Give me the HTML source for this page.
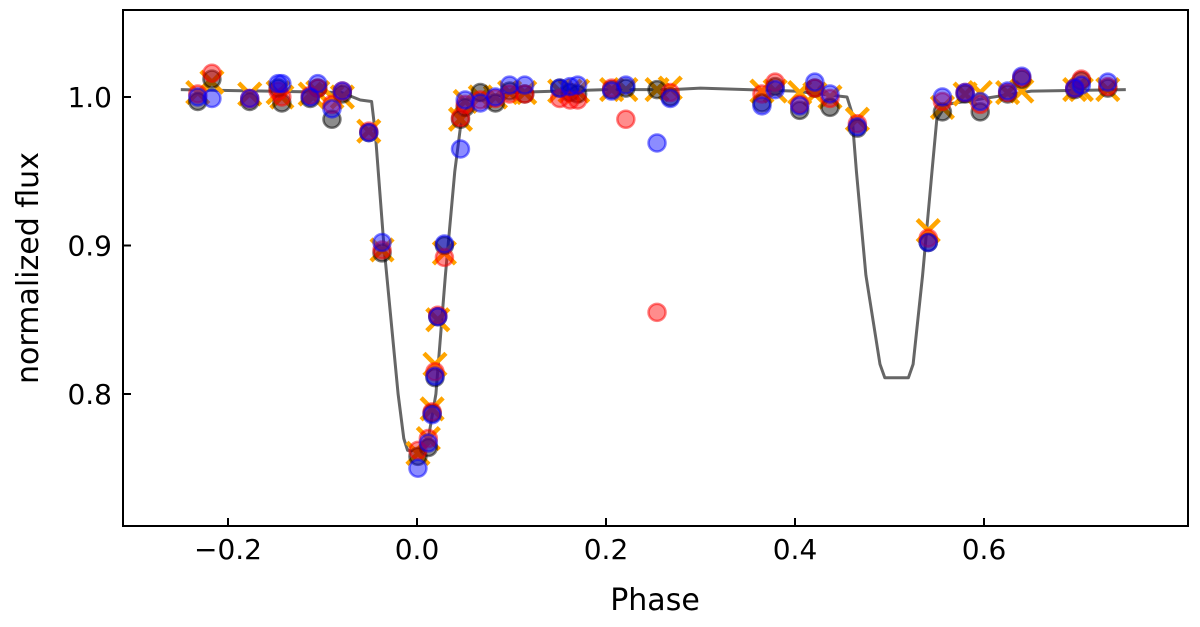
<!DOCTYPE html>
<html><head><meta charset="utf-8"><style>
body{margin:0;background:#fff;}
svg text{font-family:"DejaVu Sans","Liberation Sans",sans-serif;fill:#000;}
</style></head><body>
<svg id="chart" width="1200" height="622" xmlns="http://www.w3.org/2000/svg">
<g id="plot"></g>
<rect x="123" y="10" width="1065" height="516" fill="none" stroke="#000" stroke-width="2"/>
<g id="axes"></g>
<text x="655" y="610" font-size="30" text-anchor="middle">Phase</text>
<text transform="translate(38,268) rotate(-90)" font-size="30" text-anchor="middle">normalized flux</text>
</svg>
<script>
const xTicks=[-0.2,0.0,0.2,0.4,0.6];
const xTickLabels=["−0.2","0.0","0.2","0.4","0.6"];
const yTicks=[0.8,0.9,1.0];
const yTickLabels=["0.8","0.9","1.0"];
const modelPhase=[-0.25,-0.08,-0.06,-0.048,-0.044,-0.035,-0.02,-0.014,-0.01,0.006,0.012,0.02,0.03,0.04,0.046,0.05,0.06,0.1,0.2,0.27,0.3,0.4,0.455,0.46,0.465,0.475,0.49,0.495,0.52,0.525,0.535,0.545,0.55,0.56,0.65,0.75];
const modelFlux=[1.005,1.003,0.998,0.997,0.975,0.90,0.80,0.77,0.762,0.762,0.77,0.80,0.88,0.95,0.98,0.99,0.997,1.003,1.005,1.005,1.006,1.004,1.0,0.99,0.95,0.88,0.82,0.811,0.811,0.82,0.88,0.95,0.985,0.995,1.004,1.005];
const phases=[-0.232,-0.217,-0.177,-0.147,-0.143,-0.113,-0.105,-0.09,-0.079,-0.051,-0.037,0.001,0.012,0.016,0.019,0.022,0.029,0.046,0.051,0.067,0.083,0.098,0.114,0.151,0.162,0.17,0.206,0.221,0.254,0.268,0.365,0.379,0.405,0.421,0.437,0.466,0.541,0.556,0.58,0.596,0.625,0.64,0.696,0.703,0.731];
const fluxBlack=[0.997,1.012,0.997,1.006,0.996,0.999,1.006,0.985,1.002,0.976,0.895,0.758,0.764,0.787,0.811,0.852,0.900,0.985,0.993,1.003,0.996,1.004,1.002,1.006,1.003,1.002,1.005,1.006,1.005,1.000,0.996,1.007,0.991,1.006,0.993,0.979,0.902,0.990,1.002,0.990,1.002,1.012,1.005,1.011,1.006];
const fluxRed=[1.002,1.016,0.999,1.004,1.000,1.001,1.006,0.995,1.004,0.977,0.897,0.762,0.770,0.788,0.815,0.853,0.892,0.986,0.995,0.998,0.999,1.002,1.002,0.999,0.998,0.998,1.006,0.985,0.855,1.003,1.002,1.010,0.995,1.006,0.999,0.982,0.905,0.997,1.003,0.995,1.003,1.013,1.006,1.012,1.007];
const fluxBlue=[1.000,0.999,0.999,1.009,1.009,1.000,1.009,0.992,1.004,0.976,0.902,0.750,0.767,0.786,0.812,0.852,0.901,0.965,0.998,0.996,1.000,1.008,1.008,1.006,1.007,1.008,1.004,1.008,0.969,0.999,0.994,1.005,0.994,1.010,1.002,0.980,0.902,1.000,1.003,0.997,1.004,1.014,1.006,1.008,1.010];
const fluxModelPts=[1.003,1.010,1.002,1.003,1.000,1.002,1.003,1.000,1.000,0.977,0.897,0.760,0.770,0.790,0.820,0.850,0.895,0.985,0.997,1.000,1.000,1.003,1.003,1.004,1.004,1.004,1.005,1.005,1.005,1.006,1.004,1.004,1.003,1.002,1.000,0.985,0.910,0.993,1.002,1.003,1.003,1.004,1.005,1.005,1.005];

const X=p=>417+(p-0)*945;
const Y=f=>97+(1.0-f)*1485;
const NS="http://www.w3.org/2000/svg";
const plot=document.getElementById('plot'), axes=document.getElementById('axes');
function mk(tag,attrs,parent){const e=document.createElementNS(NS,tag);for(const k in attrs)e.setAttribute(k,attrs[k]);parent.appendChild(e);return e;}

let d=modelPhase.map((p,i)=>(i?'L':'M')+X(p).toFixed(1)+' '+Y(modelFlux[i]).toFixed(1)).join(' ');
const line=mk('path',{d:d,fill:'none',stroke:'#666',"stroke-width":3,"stroke-linejoin":"round"},plot);



phases.forEach((p,i)=>{const x=X(p),y=Y(fluxModelPts[i]);
 const g=mk('path',{d:`M${x-11} ${y-11}L${x+11} ${y+11}M${x-11} ${y+11}L${x+11} ${y-11}`,stroke:'orange',"stroke-width":4.5,fill:'none'},plot);
 
 });
function circles(arr,col,name){phases.forEach((p,i)=>{
 const c=mk('circle',{cx:X(p),cy:Y(arr[i]),r:8.5,fill:col,"fill-opacity":0.45,stroke:col,"stroke-opacity":0.5,"stroke-width":2.5},plot);
 
 });}
circles(fluxBlack,'#000','black-point');
circles(fluxRed,'#f00','red-point');
circles(fluxBlue,'#00f','blue-point');

xTicks.forEach((t,i)=>{const x=X(t);
 const l=mk('line',{x1:x,x2:x,y1:526,y2:518,stroke:'#000','stroke-width':2},axes);
 
 
 const tx=mk('text',{x:x,y:559,'font-size':28,'text-anchor':'middle'},axes);tx.textContent=xTickLabels[i];
 
 });
yTicks.forEach((t,i)=>{const y=Y(t);
 const l=mk('line',{x1:123,x2:131,y1:y,y2:y,stroke:'#000','stroke-width':2},axes);
 
 
 const tx=mk('text',{x:112,y:y+10,'font-size':28,'text-anchor':'end'},axes);tx.textContent=yTickLabels[i];
 
 });
</script>
</body></html>
